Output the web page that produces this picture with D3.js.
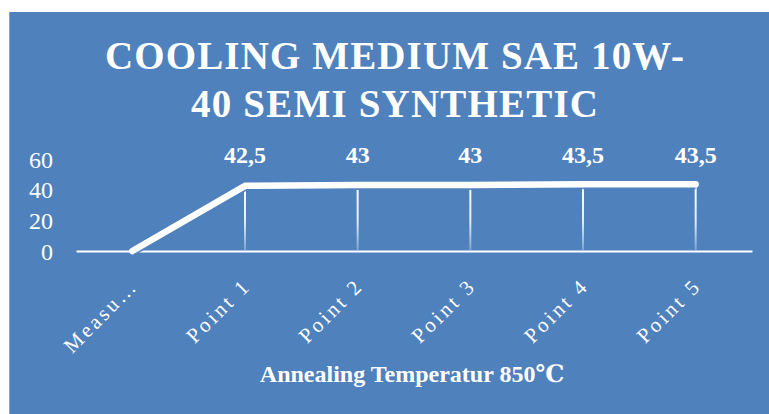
<!DOCTYPE html>
<html>
<head>
<meta charset="utf-8">
<script src="https://cdn.jsdelivr.net/npm/d3@7"></script>
<style>
  html, body { margin: 0; padding: 0; background: #ffffff; }
  svg { display: block; }
</style>
</head>
<body>
<svg id="chart" width="769" height="414"></svg>
<script>
// ---- data ----
const titleLines = ["COOLING MEDIUM SAE 10W-", "40 SEMI SYNTHETIC"];
const categories = ["Measu…", "Point 1", "Point 2", "Point 3", "Point 4", "Point 5"];
const values = [0, 42.5, 43, 43, 43.5, 43.5];
const showLabel = [false, true, true, true, true, true];
const yTicks = [0, 20, 40, 60];
const xAxisTitle = "Annealing Temperatur 850℃";

// ---- layout ----
const W = 769, H = 414;
const blue = "#4f81bd";
const serif = "'Liberation Serif', 'DejaVu Serif', serif";
const svg = d3.select("#chart");

svg.append("rect").attr("x", 9).attr("y", 12).attr("width", W - 9).attr("height", H - 12)
  .attr("fill", blue);
svg.append("line").attr("x1", 9.5).attr("x2", 9.5).attr("y1", 12).attr("y2", H)
  .attr("stroke", "#7fa2cf").attr("stroke-width", 1);

// Title
const titleWidths = [579, 407];
const titleBase = [69, 117];
titleLines.forEach((t, i) => {
  svg.append("text")
    .attr("x", 394.5).attr("y", titleBase[i])
    .attr("text-anchor", "middle")
    .attr("font-family", serif).attr("font-weight", "bold").attr("font-size", 39)
    .attr("fill", "#ffffff")
    .attr("textLength", titleWidths[i]).attr("lengthAdjust", "spacing")
    .text(t);
});

// Scales
const x = d3.scaleBand().domain(categories).range([76, 752]).paddingInner(0).paddingOuter(0);
const cx = c => x(c) + x.bandwidth() / 2;
const y = d3.scaleLinear().domain([0, 60]).range([251, 159]);

// Y axis
const yAxis = svg.append("g").attr("transform", "translate(53,0)")
  .call(d3.axisLeft(y).tickValues(yTicks).tickSize(0).tickPadding(0).tickFormat(d3.format("d")));
yAxis.select(".domain").remove();
yAxis.selectAll("text")
  .attr("font-family", serif).attr("font-size", 24).attr("fill", "#ffffff")
  .attr("dy", "0.34em");

// Gradient for drop lines
const defs = svg.append("defs");
const grad = defs.append("linearGradient").attr("id", "dropGrad")
  .attr("gradientUnits", "userSpaceOnUse")
  .attr("x1", 0).attr("x2", 0).attr("y1", y(43)).attr("y2", y(0));
grad.append("stop").attr("offset", "0%").attr("stop-color", "#ffffff").attr("stop-opacity", 1);
grad.append("stop").attr("offset", "55%").attr("stop-color", "#ffffff").attr("stop-opacity", 0.85);
grad.append("stop").attr("offset", "100%").attr("stop-color", "#ffffff").attr("stop-opacity", 0.25);

// X axis
const xAxis = svg.append("g").attr("transform", `translate(0,${y(0)})`)
  .call(d3.axisBottom(x).tickSize(0).tickSizeOuter(0).tickFormat(""));
xAxis.select(".domain").attr("stroke", "#ffffff").attr("stroke-width", 2.2);
xAxis.selectAll(".tick text").remove();

// Category labels (rotated)
svg.append("g").selectAll("text").data(categories).join("text")
  .attr("transform", d => `translate(${cx(d) + 7},${y(0) + 36}) rotate(-45)`)
  .attr("text-anchor", "end")
  .attr("font-family", serif).attr("font-size", 21).attr("letter-spacing", 3)
  .attr("fill", "#ffffff")
  .text(d => d);

// Drop lines
const pts = categories.map((c, i) => ({ c, v: values[i], show: showLabel[i] }));
svg.append("g").selectAll("line").data(pts.filter(p => p.v > 0)).join("line")
  .attr("x1", p => cx(p.c)).attr("x2", p => cx(p.c))
  .attr("y1", p => y(p.v)).attr("y2", y(0) - 1)
  .attr("stroke", "url(#dropGrad)").attr("stroke-width", 2);

// Line (with blue halo)
const lineGen = d3.line().x(p => cx(p.c)).y(p => y(p.v));
svg.append("path").datum(pts).attr("d", lineGen)
  .attr("fill", "none").attr("stroke", blue).attr("stroke-width", 10)
  .attr("stroke-linejoin", "round").attr("stroke-linecap", "butt")
  .attr("opacity", 0.9);
svg.append("path").datum(pts).attr("d", lineGen)
  .attr("fill", "none").attr("stroke", "#ffffff").attr("stroke-width", 6.5)
  .attr("stroke-linejoin", "round").attr("stroke-linecap", "round");

// Data labels
const fmt = d3.formatLocale({ decimal: ",", thousands: ".", grouping: [3], currency: ["", ""] }).format("~r");
svg.append("g").selectAll("text").data(pts.filter(p => p.show)).join("text")
  .attr("x", p => cx(p.c)).attr("y", 163)
  .attr("text-anchor", "middle")
  .attr("font-family", serif).attr("font-weight", "bold").attr("font-size", 24)
  .attr("fill", "#ffffff")
  .text(p => fmt(p.v));

// X axis title
svg.append("text")
  .attr("x", 412).attr("y", 382)
  .attr("text-anchor", "middle")
  .attr("font-family", serif).attr("font-weight", "bold").attr("font-size", 24)
  .attr("fill", "#ffffff")
  .text(xAxisTitle);
</script>
</body>
</html>
